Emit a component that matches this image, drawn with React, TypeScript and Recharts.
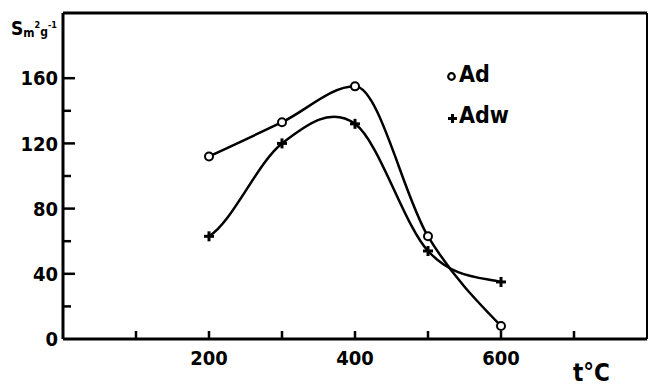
import React from 'react';
import { LineChart, Line, XAxis, YAxis, ReferenceLine } from 'recharts';

const temperatures = [200, 300, 400, 500, 600];
const adValues = [112, 133, 155, 63, 8];
const adwValues = [63, 120, 132, 54, 35];
const xTicks = [0, 100, 200, 300, 400, 500, 600, 700];
const xLabelled = [200, 400, 600];
const yTicks = [0, 20, 40, 60, 80, 100, 120, 140, 160];
const yLabelled = [0, 40, 80, 120, 160];

const data = temperatures.map((t, i) => ({ t, Ad: adValues[i], Adw: adwValues[i] }));

const FONT = '"DejaVu Sans Condensed", "DejaVu Sans", sans-serif';

// Hand-drawn-like spline: Catmull-Rom interior tangents, soft ends.
const softSpline = (context: any) => {
  let xs: number[] = [];
  let ys: number[] = [];
  return {
    areaStart() {},
    areaEnd() {},
    lineStart() {
      xs = [];
      ys = [];
    },
    point(x: number, y: number) {
      xs.push(+x);
      ys.push(+y);
    },
    lineEnd() {
      const n = xs.length;
      if (n === 0) return;
      context.moveTo(xs[0], ys[0]);
      if (n === 1) return;
      if (n === 2) {
        context.lineTo(xs[1], ys[1]);
        return;
      }
      const m: number[] = new Array(n);
      for (let i = 1; i < n - 1; i++) {
        m[i] = (ys[i + 1] - ys[i - 1]) / (xs[i + 1] - xs[i - 1]);
      }
      m[0] = ((ys[1] - ys[0]) / (xs[1] - xs[0])) * 0.5;
      m[n - 1] = ((ys[n - 1] - ys[n - 2]) / (xs[n - 1] - xs[n - 2])) * 0.5;
      for (let i = 0; i < n - 1; i++) {
        const dx = (xs[i + 1] - xs[i]) / 3;
        context.bezierCurveTo(
          xs[i] + dx,
          ys[i] + m[i] * dx,
          xs[i + 1] - dx,
          ys[i + 1] - m[i + 1] * dx,
          xs[i + 1],
          ys[i + 1]
        );
      }
    },
  };
};

const XTick = (props: any) => {
  const { x, y, payload } = props;
  const v = payload.value;
  return (
    <g>
      {v !== 0 && <line x1={x} x2={x} y1={y} y2={y - 8} stroke="#000" strokeWidth={2.5} />}
      {xLabelled.includes(v) && (
        <text x={x} y={y + 26} textAnchor="middle" fontFamily={FONT} fontWeight="bold" fontSize={20} fill="#000">
          {v}
        </text>
      )}
    </g>
  );
};

const YTick = (props: any) => {
  const { x, y, payload } = props;
  const v = payload.value;
  const major = yLabelled.includes(v);
  const ax = x + 5;
  return (
    <g>
      {v !== 0 && <line x1={ax} x2={ax + (major ? 12 : 8)} y1={y} y2={y} stroke="#000" strokeWidth={2.5} />}
      {major && (
        <text x={x} y={y} dy="0.36em" textAnchor="end" fontFamily={FONT} fontWeight="bold" fontSize={20} fill="#000">
          {v}
        </text>
      )}
    </g>
  );
};

const CircleDot = (props: any) => {
  const { cx, cy } = props;
  return <circle cx={cx} cy={cy} r={4} fill="#fff" stroke="#000" strokeWidth={2} />;
};

const PlusDot = (props: any) => {
  const { cx, cy } = props;
  return (
    <g stroke="#000" strokeWidth={3}>
      <line x1={cx - 5} x2={cx + 5} y1={cy} y2={cy} />
      <line x1={cx} x2={cx} y1={cy - 5} y2={cy + 5} />
    </g>
  );
};

export default function App() {
  return (
    <div style={{ position: 'absolute', left: 0, top: 0, width: 652, height: 387, background: '#fff' }}>
      <LineChart width={652} height={387} data={data} margin={{ top: 13, right: 5, bottom: 0, left: 0 }}>
        <XAxis
          dataKey="t"
          type="number"
          domain={[0, 800]}
          ticks={xTicks}
          interval={0}
          height={48}
          tickSize={0}
          tickMargin={0}
          tickLine={false}
          axisLine={{ stroke: '#000', strokeWidth: 3 }}
          tick={<XTick />}
        />
        <YAxis
          type="number"
          domain={[0, 200]}
          ticks={yTicks}
          interval={0}
          width={63}
          tickSize={0}
          tickMargin={5}
          tickLine={false}
          axisLine={{ stroke: '#000', strokeWidth: 3 }}
          tick={<YTick />}
        />
        <ReferenceLine y={200} stroke="#000" strokeWidth={3} />
        <ReferenceLine x={800} stroke="#000" strokeWidth={2} />
        <Line
          type="monotone"
          dataKey="Ad"
          stroke="#000"
          strokeWidth={2.5}
          dot={<CircleDot />}
          isAnimationActive={false}
        />
        <Line
          type={softSpline as any}
          dataKey="Adw"
          stroke="#000"
          strokeWidth={2.5}
          dot={<PlusDot />}
          isAnimationActive={false}
        />
      </LineChart>
      <svg width={652} height={387} style={{ position: 'absolute', left: 0, top: 0, pointerEvents: 'none' }}>
        <g fontFamily={FONT} fontWeight="bold" fill="#000">
          <text x={11} y={35}>
            <tspan fontSize={19}>S</tspan>
            <tspan fontSize={12} dy={2}>m</tspan>
            <tspan fontSize={9} dy={-9}>2</tspan>
            <tspan fontSize={12} dy={8}>g</tspan>
            <tspan fontSize={9} dy={-8}>-1</tspan>
          </text>
          <circle cx={451.5} cy={76.5} r={3.3} fill="#fff" stroke="#000" strokeWidth={2.2} />
          <text x={459} y={82} fontSize={23}>
            Ad
          </text>
          <g stroke="#000" strokeWidth={3}>
            <line x1={448} x2={457} y1={118.5} y2={118.5} />
            <line x1={452.5} x2={452.5} y1={114} y2={123} />
          </g>
          <text x={459} y={123} fontSize={23}>
            Adw
          </text>
          <text x={573} y={381} fontSize={24}>
            t°C
          </text>
        </g>
      </svg>
    </div>
  );
}
